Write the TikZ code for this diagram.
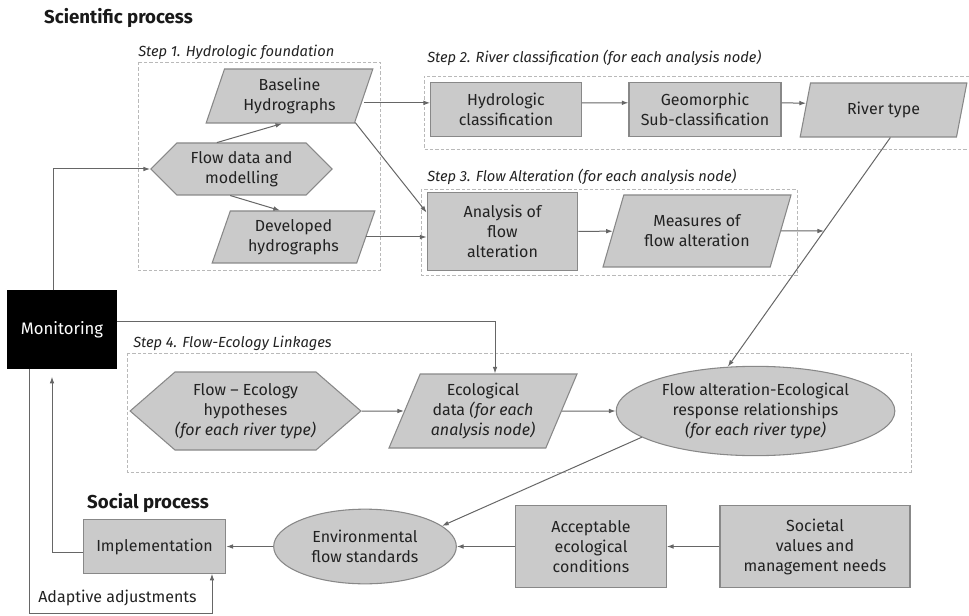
\documentclass[tikz,border=0pt]{standalone}
\usepackage{fontspec}
\setmainfont{Fira Sans}
\usepackage{xcolor}
\usetikzlibrary{arrows.meta, shapes.geometric, shapes.symbols, calc, intersections}

\definecolor{boxfill}{HTML}{CACACA}
\definecolor{boxline}{HTML}{888888}
\definecolor{linegray}{HTML}{666666}
\definecolor{txtgray}{HTML}{222222}

\begin{document}
\begin{tikzpicture}[x=0.75pt, y=-0.75pt,
  base/.style={draw=boxline, fill=boxfill, line width=0.8pt, align=center,
               text=txtgray, inner sep=2pt, font=\fontsize{12}{15}\selectfont},
  box/.style={base, rectangle},
  para/.style={base, trapezium, trapezium left angle=#1,
               trapezium right angle=180-#1, trapezium stretches body},
  hexa/.style={base, signal, signal to=west and east, signal pointer angle=#1,
               inner xsep=0pt},
  oval/.style={base, ellipse},
  frame/.style={draw=gray!55, dash pattern=on 2.5pt off 1.5pt, line width=0.6pt},
  steplbl/.style={anchor=west, inner sep=0pt, text=txtgray,
                  font=\fontsize{11}{13}\selectfont\itshape},
  title/.style={inner sep=0pt, text=black!90, font=\fontsize{14}{16}\selectfont\bfseries},
  arr/.style={-{Latex[length=5pt,width=3.5pt]}, draw=linegray, line width=0.75pt}
]
\useasboundingbox (0,0) rectangle (969,616);
%% Step frames
\draw[frame] (138,62) rectangle (380,270);
\draw[frame] (969,76) -- (424,76) -- (424,149) -- (969,149);
\draw[frame] (421,189) rectangle (797,275);
\draw[frame] (127,353) rectangle (911,472);
%% Titles and step labels
\node[title] (sci) at (118.5,18) {Scientific process};
\node[title] (soc) at (148,503) {Social process};
\node[steplbl] (s1) at (138,52) {Step 1. Hydrologic foundation};
\node[steplbl] (s2) at (427,58) {Step 2. River classification (for each analysis node)};
\node[steplbl] (s3) at (427,177) {Step 3. Flow Alteration (for each analysis node)};
\node[steplbl] (s4) at (133,343) {Step 4. Flow-Ecology Linkages};
%% Step 1
\node[para=66, minimum width=125pt, minimum height=40.5pt] (bh) at (289.5,96) {Baseline\\Hydrographs};
\node[hexa=90, minimum width=136pt, minimum height=39pt] (fd) at (241.5,169) {Flow data and\\modelling};
\node[para=66, minimum width=122pt, minimum height=39pt] (dh) at (293.5,237) {Developed\\hydrographs};
%% Step 2
\node[box, minimum width=113pt, minimum height=40pt] (hc) at (506,109.5) {Hydrologic\\classification};
\node[box, minimum width=114pt, minimum height=40pt] (gc) at (705,109.5) {Geomorphic\\Sub-classification};
\node[para=64, minimum width=125pt, minimum height=40.5pt] (rt) at (883.5,110) {River type};
%% Step 3
\node[box, minimum width=113pt, minimum height=58pt] (ac) at (502.5,231.5) {Analysis of\\flow\\alteration};
\node[para=61, minimum width=141pt, minimum height=54pt] (ma) at (697,231) {Measures of\\flow alteration};
%% Monitoring
\node[box, fill=black, draw=black, text=white, minimum width=81pt, minimum height=58pt,
      font=\fontsize{12.5}{15}\selectfont] (mon) at (62,329.5) {Monitoring};
%% Step 4
\node[hexa=82, minimum width=166pt, minimum height=58.5pt] (hy) at (245.5,411) {Flow -- Ecology\\hypotheses\\\textit{(for each river type)}};
\node[para=63, minimum width=141pt, minimum height=55.5pt] (ed) at (483,411) {Ecological\\data \textit{(for each}\\\textit{analysis node)}};
\node[oval, minimum width=209pt, minimum height=67pt] (fe) at (755.5,411) {Flow alteration-Ecological\\response relationships\\\textit{(for each river type)}};
%% Social process
\node[box, minimum width=107pt, minimum height=40pt] (imp) at (154.5,546.5) {Implementation};
\node[oval, minimum width=137pt, minimum height=56pt] (env) at (365,546.5) {Environmental\\flow standards};
\node[box, minimum width=113pt, minimum height=61pt] (acc) at (591,546.5) {Acceptable\\ecological\\conditions};
\node[box, minimum width=142.5pt, minimum height=61pt] (sv) at (815,546.5) {Societal\\values and\\management needs};
\node[text=txtgray, inner sep=0pt, font=\fontsize{12}{15}\selectfont] (adj) at (117.5,598) {Adaptive adjustments};
%% Connectors, step 1 and 2
\draw[arr] ($(mon.north)+(-9,0)$) |- (fd.west);
\draw[arr] (fd.133) -- (bh.255);
\draw[arr] (fd.247) -- (dh.117);
\draw[arr] (bh.east |- hc.175) -- (hc.175);
\draw[arr] (hc.5) -- (gc.175);
\draw[arr] (gc.5) -- (rt.175);
%% Connectors, step 3
\draw[arr] (bh.338) -- (ac.166);
\draw[arr] (dh.east) -- (dh.east -| ac.west);
\draw[arr] (ac) -- (ma);
\path[name path=rivline] (rt.284) -- (fe.122);
\path[name path=measline] (ma.east) -- ++(150,0);
\path[name intersections={of=rivline and measline, by=jn}];
\draw[arr] (ma.east) -- (jn);
\draw[arr] (rt.284) -- (fe.122);
%% Connectors, step 4
\draw[arr] ($(mon.east)+(0,-8.5)$) -| ($(ed.north)+(12,0)$);
\draw[arr] (hy) -- (ed);
\draw[arr] (ed) -- (fe);
\draw[arr] (fe.193) -- (env.15);
%% Connectors, social process
\draw[arr] (sv) -- (acc);
\draw[arr] (acc) -- (env);
\draw[arr] (env) -- (imp);
\draw[arr, shorten >=6pt] ($(imp.west)+(0,5.5)$) -| ($(mon.south)+(-10,0)$);
\draw[arr] ($(mon.south)+(-33,0)$) |- ($(imp.south)+(57.5,40)$) -- ($(imp.south)+(57.5,0)$);
\end{tikzpicture}
\end{document}
